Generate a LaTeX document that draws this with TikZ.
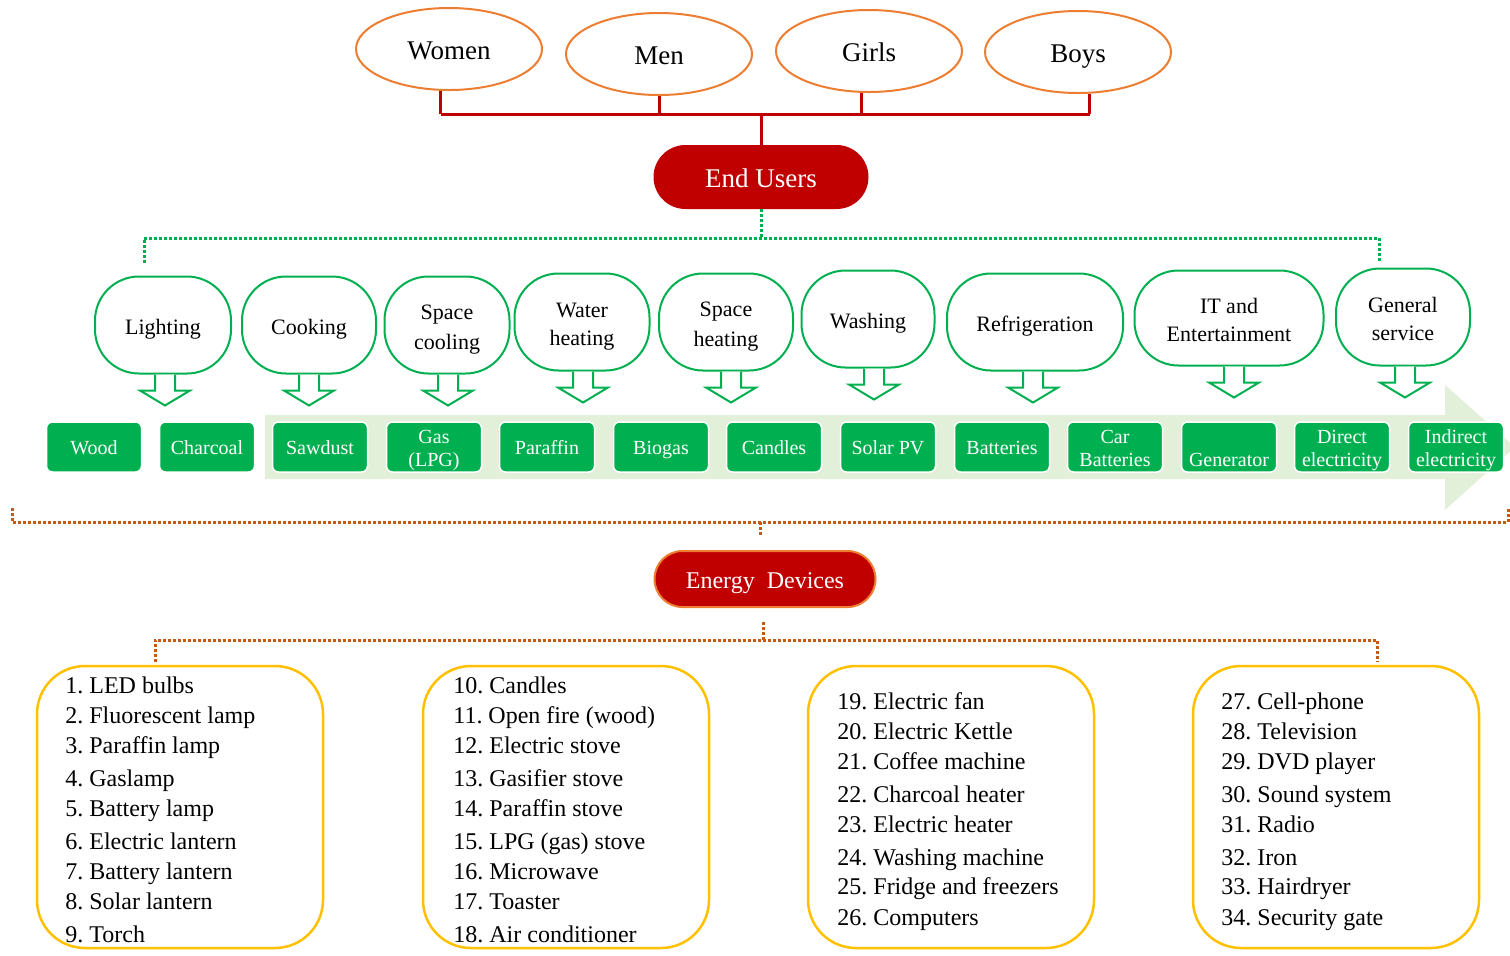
\documentclass[tikz,border=0pt]{standalone}
\usepackage{fontspec}
\setmainfont{Liberation Serif}
\frenchspacing
\usetikzlibrary{shapes.geometric,calc}
\definecolor{usrorange}{HTML}{ED7D31}
\definecolor{darkred}{HTML}{C00000}
\definecolor{fgreen}{HTML}{00B050}
\definecolor{palegreen}{HTML}{E2F0D9}
\definecolor{rust}{HTML}{C55A11}
\definecolor{amber}{HTML}{FFC000}
% a strut that sits a little lower than the usual one
\newcommand\lstrut{\rule[-.16\baselineskip]{0pt}{\baselineskip}}
\tikzset{
  user/.style={ellipse, draw=usrorange, line width=1pt, fill=white,
    minimum width=93pt, minimum height=41pt, inner sep=0pt,
    font=\fontsize{13.5}{16}\selectfont, execute at begin node=\lstrut},
  hub/.style={rectangle, fill=darkred, text=white, inner sep=0pt,
    font=\fontsize{13.5}{16}\selectfont, execute at begin node=\lstrut},
  service/.style={rectangle, draw=fgreen, line width=1pt, fill=white,
    rounded corners=22pt, minimum height=48.5pt, inner sep=0pt, align=center,
    font=\fontsize{11}{14}\selectfont},
  fuel/.style={rectangle, fill=fgreen, draw=white, line width=0.75pt,
    rounded corners=3pt, minimum width=47.5pt, minimum height=25pt,
    inner sep=0pt, text=white, align=center,
    font=\fontsize{10}{11.5}\selectfont},
  devbox/.style={rectangle, draw=amber, line width=1.25pt,
    rounded corners=24pt, minimum width=143pt, minimum height=141pt},
  item/.style={anchor=base west, inner sep=0pt, font=\fontsize{12}{14}\selectfont},
  redline/.style={draw=darkred, line width=1.5pt},
  gdot/.style={draw=fgreen, line width=1.5pt, dash pattern=on 1.5pt off 1pt},
  odot/.style={draw=rust, line width=1.5pt, dash pattern=on 1.5pt off 1pt},
  downarrow/.pic={\draw[fgreen, line width=1pt, fill=white, line join=miter]
    (-10,0) -- (-10,16) -- (-25,16) -- (0,31) -- (25,16) -- (10,16) -- (10,0);}
}
\begin{document}
\begin{tikzpicture}[x=0.5pt, y=-0.5pt]
\useasboundingbox (0,0) rectangle (1510,955);

% end users
\node[user] (wo) at (449,49) {Women};
\node[user] (me) at (659,54) {Men};
\node[user] (gi) at (869,51) {Girls};
\node[user] (bo) at (1078,52) {Boys};
\node[hub, rounded corners=16pt, minimum width=107.5pt, minimum height=32pt] (eu) at (761,177) {End Users};

\coordinate (rbus) at (760,114);
\draw[redline] (wo.-101) -- (wo.-101 |- rbus);
\draw[redline] (me.south) -- (me.south |- rbus);
\draw[redline] (gi.-100) -- (gi.-100 |- rbus);
\draw[redline] (bo.-74) -- (bo.-74 |- rbus);
\draw[redline] (wo.-101 |- rbus) -- (bo.-74 |- rbus);
\draw[redline] (eu.north) -- (eu.north |- rbus);

% services
\node[service, minimum width=68pt] (li) at (163,325) {\lstrut Lighting};
\node[service, minimum width=67pt] (co) at (309,325) {\lstrut Cooking};
\node[service, minimum width=62.5pt] (sc) at (447,325) {\lstrut Space\\\lstrut cooling};
\node[service, minimum width=67.5pt] (wh) at (582,322) {\lstrut Water\\\lstrut heating};
\node[service, minimum width=67pt] (sh) at (726,322) {\lstrut Space\\\lstrut heating};
\node[service, minimum width=66.5pt] (wa) at (868,319) {\lstrut Washing};
\node[service, minimum width=88pt] (re) at (1035,322) {\lstrut Refrigeration};
\node[service, minimum width=94.5pt, minimum height=47.5pt] (it) at (1229,318) {\lstrut IT and\\\lstrut Entertainment};
\node[service, minimum width=67pt] (gs) at (1403,317) {\lstrut General\\\lstrut service};

\coordinate (gbus) at (757,238);
\coordinate (gl) at (144,263);
\coordinate (gr) at (1379,263);
\draw[gdot] (eu.south) -- (eu.south |- gbus);
\draw[gdot] (gl) -- (gl |- gbus) -- (gr |- gbus) -- (gr);

% fuel band
\fill[palegreen] (265,415) -- (1445,415) -- (1445,385) -- (1515,447)
  -- (1445,510) -- (1445,479) -- (265,479) -- cycle;

\foreach \n/\dx in {li/2, co/0, sc/1, wh/1, sh/5, wa/6, re/-2, it/5, gs/2}
  \pic at ($(\n.south)+(\dx,0)$) {downarrow};

\node[fuel] (f1) at (94,447) {\lstrut Wood};
\node[fuel] (f2) at (207,447) {\lstrut Charcoal};
\node[fuel] (f3) at (320,447) {\lstrut Sawdust};
\node[fuel] (f4) at (434,447) {\lstrut Gas\\\lstrut (LPG)};
\node[fuel] (f5) at (547,447) {\lstrut Paraffin};
\node[fuel] (f6) at (661,447) {\lstrut Biogas};
\node[fuel] (f7) at (774,447) {\lstrut Candles};
\node[fuel] (f8) at (888,447) {\lstrut Solar PV};
\node[fuel] (f9) at (1002,447) {\lstrut Batteries};
\node[fuel] (f10) at (1115,447) {\lstrut Car\\\lstrut Batteries};
\node[fuel] (f11) at (1229,447) {\lstrut\\\lstrut Generator};
\node[fuel] (f12) at (1342,447) {\lstrut Direct\\\lstrut electricity};
\node[fuel] (f13) at (1456,447) {\lstrut Indirect\\\lstrut electricity};

% energy devices
\coordinate (obus) at (760,522);
\coordinate (ol) at (12,508);
\coordinate (or) at (1508,508);
\node[hub, draw=usrorange, line width=1pt, rounded corners=14pt,
  minimum width=110.5pt, minimum height=28pt,
  font=\fontsize{12}{14}\selectfont] (ed) at (765,579) {Energy\ \ Devices};
\draw[odot] (ol) -- (ol |- obus) -- (or |- obus) -- (or);
\draw[odot, shorten >=7pt] (obus) -- (obus |- ed.north);

\coordinate (lbus) at (763,640);
\coordinate (dl) at (155,662);
\coordinate (dr) at (1377,662);
\draw[odot, shorten <=7pt] (lbus |- ed.south) -- (lbus);
\draw[odot] (dl) -- (dl |- lbus) -- (dr |- lbus) -- (dr);

\node[devbox] (d1) at (180,807) {};
\node[devbox] (d2) at (566,807) {};
\node[devbox] (d3) at (951,807) {};
\node[devbox] (d4) at (1336,807) {};

% device lists (y is the visual text centre; baseline sits 8 units lower)
\foreach \t [count=\i] /\y in {1. LED bulbs/685, 2. Fluorescent lamp/715, 3. Paraffin lamp/745,
  4. Gaslamp/778, 5. Battery lamp/808, 6. Electric lantern/841,
  7. Battery lantern/871, 8. Solar lantern/901, 9. Torch/934}
  \node[item] (a\i) at (65,\y+8) {\t};
\foreach \t [count=\i] /\y in {10. Candles/685, 11. Open fire (wood)/715, 12. Electric stove/745,
  13. Gasifier stove/778, 14. Paraffin stove/808, 15. LPG (gas) stove/841,
  16. Microwave/871, 17. Toaster/901, 18. Air conditioner/934}
  \node[item] (b\i) at (453,\y+8) {\t};
\foreach \t [count=\i] /\y in {19. Electric fan/701, 20. Electric Kettle/731, 21. Coffee machine/761,
  22. Charcoal heater/794, 23. Electric heater/824, 24. Washing machine/857,
  25. Fridge and freezers/886, 26. Computers/917}
  \node[item] (c\i) at (837,\y+8) {\t};
\foreach \t [count=\i] /\y in {27. Cell-phone/701, 28. Television/731, 29. DVD player/761,
  30. Sound system/794, 31. Radio/824, 32. Iron/857,
  33. Hairdryer/886, 34. Security gate/917}
  \node[item] (e\i) at (1221,\y+8) {\t};
\end{tikzpicture}
\end{document}
